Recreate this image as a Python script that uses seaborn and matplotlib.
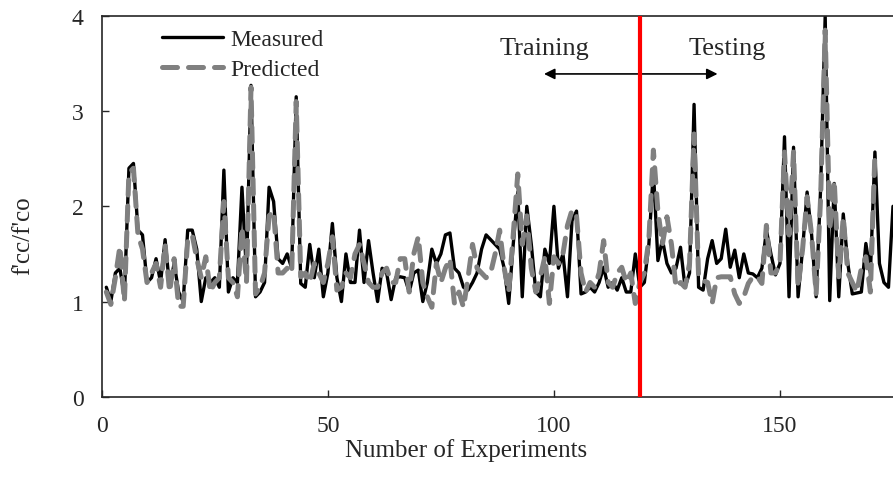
#!/usr/bin/env python3
"""
Measured vs predicted confinement ratio f'cc/f'co over the experiment index,
with the training/testing split marked.
"""

import numpy as np
import pandas as pd
import seaborn as sns
import matplotlib.pyplot as plt

# values, experiments 1..175
measured = [
    1.15, 1.00, 1.30, 1.35, 1.05, 2.40, 2.45, 1.75, 1.70, 1.20,
    1.25, 1.45, 1.20, 1.65, 1.15, 1.40, 1.10, 1.00, 1.75, 1.75,
    1.55, 1.00, 1.25, 1.20, 1.25, 1.15, 2.38, 1.10, 1.25, 1.20,
    2.20, 1.30, 3.27, 1.05, 1.10, 1.20, 2.20, 2.05, 1.45, 1.40,
    1.50, 1.35, 3.15, 1.19, 1.15, 1.60, 1.25, 1.55, 1.05, 1.30,
    1.82, 1.25, 1.00, 1.50, 1.20, 1.20, 1.75, 1.20, 1.64, 1.30,
    1.00, 1.35, 1.30, 1.02, 1.25, 1.26, 1.25, 1.10, 1.30, 1.33,
    1.00, 1.20, 1.55, 1.40, 1.50, 1.70, 1.72, 1.35, 1.30, 1.15,
    1.12, 1.20, 1.30, 1.55, 1.70, 1.65, 1.60, 1.55, 1.35, 0.98,
    1.60, 2.15, 1.05, 2.00, 1.60, 1.10, 1.05, 1.55, 1.40, 2.00,
    1.35, 1.50, 1.05, 1.85, 1.95, 1.08, 1.10, 1.15, 1.10, 1.20,
    1.36, 1.15, 1.20, 1.12, 1.25, 1.10, 1.10, 1.50, 1.15, 1.20,
    1.60, 2.38, 1.43, 1.65, 1.40, 1.30, 1.35, 1.57, 1.15, 1.30,
    3.07, 1.15, 1.12, 1.45, 1.64, 1.40, 1.45, 1.76, 1.36, 1.54,
    1.25, 1.50, 1.30, 1.29, 1.25, 1.35, 1.75, 1.50, 1.28, 1.40,
    2.73, 1.05, 2.62, 1.05, 1.55, 2.15, 1.70, 1.05, 2.20, 4.00,
    1.01, 2.24, 1.05, 1.92, 1.40, 1.08, 1.09, 1.10, 1.61, 1.30,
    2.57, 1.40, 1.20, 1.15, 2.00,
]

predicted = [
    1.10, 0.97, 1.25, 1.58, 1.00, 2.35, 2.40, 1.70, 1.55, 1.20,
    1.30, 1.40, 1.15, 1.60, 1.10, 1.45, 0.95, 0.95, 1.65, 1.70,
    1.45, 1.25, 1.47, 1.10, 1.20, 1.25, 2.05, 1.25, 1.20, 1.05,
    1.78, 1.20, 3.25, 1.08, 1.15, 1.30, 1.90, 1.95, 1.30, 1.30,
    1.35, 1.30, 3.10, 1.26, 1.30, 1.20, 1.40, 1.30, 1.20, 1.40,
    1.68, 1.12, 1.15, 1.30, 1.25, 1.50, 1.60, 1.40, 1.20, 1.15,
    1.15, 1.30, 1.35, 1.20, 1.20, 1.45, 1.45, 1.10, 1.50, 1.68,
    1.20, 1.05, 0.94, 1.40, 1.20, 1.35, 1.45, 0.98, 1.10, 0.94,
    1.25, 1.60, 1.35, 1.30, 1.25, 1.30, 1.50, 1.75, 1.35, 1.10,
    1.70, 2.34, 1.60, 1.90, 1.35, 1.10, 1.26, 1.47, 0.98, 1.47,
    1.40, 1.50, 1.80, 1.96, 1.90, 1.30, 1.10, 1.20, 1.15, 1.30,
    1.64, 1.20, 1.15, 1.30, 1.36, 1.20, 1.30, 0.98, 1.20, 1.30,
    1.65, 2.59, 1.95, 1.60, 1.89, 1.60, 1.15, 1.20, 1.15, 1.40,
    2.76, 1.26, 1.22, 1.20, 0.98, 1.25, 1.26, 1.26, 1.26, 1.08,
    0.98, 1.05, 1.19, 1.26, 1.26, 1.19, 1.80, 1.30, 1.30, 1.40,
    2.57, 1.70, 2.57, 1.15, 1.55, 2.10, 1.70, 1.08, 2.10, 3.85,
    1.75, 2.27, 1.26, 1.89, 1.30, 1.20, 1.10, 1.35, 1.47, 1.10,
    2.55, np.nan, np.nan, np.nan, np.nan,
]

experiments = np.arange(1, len(measured) + 1)
split_at = 119
y_ticks = [0, 1, 2, 3, 4]
x_ticks = [0, 50, 100, 150]

df = pd.DataFrame({'Experiment': experiments,
                   'Measured': measured,
                   'Predicted': predicted})

sns.set_style("ticks")
plt.rcParams['font.family'] = ['Liberation Serif', 'DejaVu Serif']

fig = plt.figure(figsize=(8.93, 4.81), dpi=100)
ax = fig.add_axes([0.114, 0.173, 0.886, 0.792])

sns.lineplot(data=df, x='Experiment', y='Measured', ax=ax, color='black',
             linewidth=2.4, label='Measured')
sns.lineplot(data=df, x='Experiment', y='Predicted', ax=ax, color='#808080',
             linewidth=3.6, dashes=False, label='Predicted')
pred_line = ax.lines[1]
pred_line.set_linestyle((0, (3.0, 2.2)))
pred_line.set_dash_capstyle('round')

ax.axvline(split_at, color='red', linewidth=3, zorder=5)

# training / testing annotation
ax.annotate('', xy=(97.2, 3.39), xytext=(136.8, 3.39),
            arrowprops=dict(arrowstyle='<|-|>', color='black', lw=1.2,
                            mutation_scale=16))
ax.text(97.8, 3.66, 'Training', ha='center', va='center', fontsize=19)
ax.text(138.3, 3.66, 'Testing', ha='center', va='center', fontsize=19)

ax.set_xlim(0, 175)
ax.set_ylim(0, 4)
ax.set_xticks(x_ticks)
ax.set_yticks(y_ticks)
ax.tick_params(direction='in', labelsize=17, length=5, width=1)
ax.tick_params(axis='x', pad=13)
ax.tick_params(axis='y', pad=13)
ax.set_xlabel('Number of Experiments', fontsize=18)
ax.set_ylabel("f'cc/f'co", fontsize=18)
ax.xaxis.set_label_coords(0.46, -0.108)
ax.yaxis.set_label_coords(-0.085, 0.425)
for side in ['top', 'left', 'bottom']:
    ax.spines[side].set_linewidth(1.2)
ax.spines['right'].set_visible(False)

leg = ax.legend(loc='upper left', bbox_to_anchor=(0.058, 1.004), frameon=False,
                fontsize=17, handlelength=2.6, handletextpad=0.3,
                labelspacing=0.35, borderaxespad=0.2)
leg.get_lines()[1].set_linestyle((0, (3.0, 2.2)))
leg.get_lines()[1].set_dash_capstyle('round')

fig.savefig('out.png', dpi=100)
